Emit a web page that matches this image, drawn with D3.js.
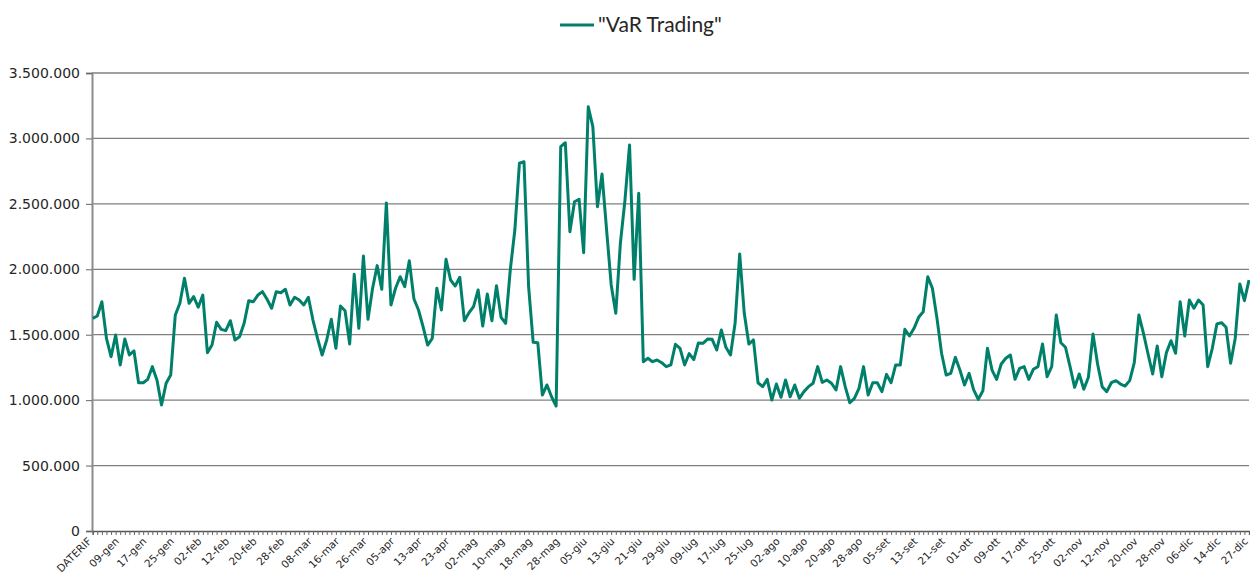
<!DOCTYPE html>
<html>
<head>
<meta charset="utf-8">
<script src="https://cdn.jsdelivr.net/npm/d3@7"></script>
<style>
  body { margin: 0; background: #fff; }
  svg { display: block; }
</style>
</head>
<body>
<div id="chart"></div>
<script>
(function() {

  // series name shown in the legend
  let seriesName = '"VaR Trading"';

  // VaR values (thousands of euro), one per trading day
  let varTrading = [
    1625, 1643, 1752, 1472, 1332, 1498, 1269, 1467, 1345, 1376,
    1133, 1133, 1159, 1256, 1154, 963, 1129, 1192, 1651, 1740,
    1931, 1740, 1791, 1710, 1803, 1363, 1421, 1595, 1541, 1531,
    1607, 1460, 1485, 1587, 1760, 1752, 1803, 1829, 1771, 1702,
    1829, 1821, 1847, 1727, 1786, 1765, 1727, 1786, 1612, 1472,
    1345, 1460, 1618, 1396, 1719, 1683, 1429, 1962, 1549, 2101,
    1618, 1855, 2028, 1847, 2507, 1727, 1855, 1943, 1867, 2066,
    1775, 1689, 1561, 1421, 1472, 1855, 1689, 2076, 1918, 1872,
    1939, 1607, 1668, 1714, 1842, 1567, 1811, 1607, 1875, 1633,
    1587, 1994, 2300, 2810, 2822, 1867, 1442, 1439, 1039, 1116,
    1026, 955, 2937, 2967, 2287, 2516, 2535, 2127, 3242, 3090,
    2478, 2728, 2300, 1880, 1664, 2199, 2529, 2950, 1923, 2581,
    1294, 1320, 1294, 1307, 1286, 1256, 1269, 1427, 1396, 1269,
    1356, 1310, 1437, 1434, 1467, 1465, 1383, 1536, 1404, 1345,
    1587, 2117, 1664, 1429, 1460, 1133, 1103, 1159, 1001, 1123,
    1022, 1154, 1026, 1116, 1014, 1065, 1103, 1129, 1256, 1136,
    1154, 1129, 1078, 1256, 1103, 980, 1014, 1090, 1256, 1039,
    1133, 1133, 1065, 1197, 1133, 1269, 1269, 1541, 1490, 1549,
    1633, 1676, 1943, 1855, 1625, 1358, 1192, 1205, 1327, 1230,
    1116, 1205, 1078, 1006, 1072, 1396, 1230, 1159, 1276, 1320,
    1345, 1159, 1243, 1256, 1159, 1236, 1256, 1429, 1179, 1256,
    1651, 1439, 1404, 1256, 1098, 1200, 1083, 1175, 1505, 1276,
    1103, 1065, 1133, 1149, 1123, 1108, 1149, 1286, 1651, 1511,
    1353, 1200, 1414, 1179, 1363, 1454, 1358, 1752, 1490, 1765,
    1702, 1765, 1727, 1256, 1396, 1582, 1592, 1557, 1282, 1473,
    1888, 1760, 1918
  ];

  // category labels shown on the x axis (one every 6 trading days)
  let labelStep = 6;
  let tickLabels = [
    "DATERIF", "09-gen", "17-gen", "25-gen", "02-feb", "12-feb", "20-feb", "28-feb",
    "08-mar", "16-mar", "26-mar", "05-apr", "13-apr", "23-apr", "02-mag", "10-mag",
    "18-mag", "28-mag", "05-giu", "13-giu", "21-giu", "29-giu", "09-lug", "17-lug",
    "25-lug", "02-ago", "10-ago", "20-ago", "28-ago", "05-set", "13-set", "21-set",
    "01-ott", "09-ott", "17-ott", "25-ott", "02-nov", "12-nov", "20-nov", "28-nov",
    "06-dic", "14-dic", "27-dic"
  ];

  // y axis ticks
  let yTicks = [0, 500000, 1000000, 1500000, 2000000, 2500000, 3000000, 3500000];

  let lineColor = "#00806a";

  // set the dimensions and margins of the graph
  let margin = {top: 73, right: 1, bottom: 46, left: 92},
      width = 1250 - margin.left - margin.right,
      height = 577 - margin.top - margin.bottom;

  let svg = d3.select("#chart")
    .append("svg")
      .attr("width", 1250)
      .attr("height", 577);

  let g = svg.append("g")
      .attr("transform", "translate(" + margin.left + "," + margin.top + ")");

  let data = varTrading.map(function(v, i) { return {i: i, value: v * 1000}; });

  // X axis: one point per trading day
  let x = d3.scalePoint()
      .domain(data.map(function(d) { return d.i; }))
      .range([0.7, width]);

  // Y axis
  let y = d3.scaleLinear()
      .domain([0, 3500000])
      .range([height, 0]);

  let fmt = function(v) {
    return v === 0 ? "0" : d3.format(",")(v).replace(/,/g, ".");
  };

  // horizontal grid lines
  g.append("g")
    .selectAll("line")
    .data(yTicks.filter(function(t) { return t > 0; }))
    .enter().append("line")
      .attr("x1", 0)
      .attr("x2", width)
      .attr("y1", function(d) { return y(d); })
      .attr("y2", function(d) { return y(d); })
      .attr("stroke", "#808080")
      .attr("stroke-width", 1.3);

  // y axis
  let yAxis = g.append("g")
      .call(d3.axisLeft(y).tickValues(yTicks).tickSize(6).tickPadding(6).tickFormat(fmt));
  yAxis.select(".domain").attr("stroke", "#8c8c8c").attr("stroke-width", 2);
  yAxis.selectAll(".tick line").attr("stroke", "#666");
  yAxis.selectAll(".tick text")
      .attr("fill", "#262626")
      .style("font-family", "'DejaVu Sans', sans-serif")
      .style("font-size", "14px");

  // x axis with a small tick on every category
  let xAxis = g.append("g")
      .attr("transform", "translate(0," + height + ")")
      .call(d3.axisBottom(x).tickSize(4).tickFormat(function(d) {
        return d % labelStep === 0 ? tickLabels[d / labelStep] : "";
      }));
  xAxis.select(".domain").attr("stroke", "#555").attr("stroke-width", 1.3);
  xAxis.selectAll(".tick line").attr("stroke", "#666");
  xAxis.selectAll(".tick text")
      .attr("fill", "#262626")
      .style("font-family", "'DejaVu Sans', sans-serif")
      .style("font-size", "10.5px")
      .attr("text-anchor", "end")
      .attr("y", 0)
      .attr("dy", 0)
      .attr("transform", "translate(-1,11) rotate(-45)");

  // the line
  let line = d3.line()
      .x(function(d) { return x(d.i); })
      .y(function(d) { return y(d.value); });

  g.append("path")
      .datum(data)
      .attr("fill", "none")
      .attr("stroke", lineColor)
      .attr("stroke-width", 3)
      .attr("stroke-linejoin", "round")
      .attr("d", line);

  // legend at the top
  let legend = svg.append("g")
      .attr("transform", "translate(560,25)");
  legend.append("line")
      .attr("x1", 0)
      .attr("x2", 34)
      .attr("stroke", lineColor)
      .attr("stroke-width", 3);
  legend.append("text")
      .attr("x", 38)
      .attr("y", 7)
      .attr("fill", "#262626")
      .style("font-family", "Lato, sans-serif")
      .style("font-size", "21px")
      .text(seriesName);

})();
</script>
</body>
</html>
